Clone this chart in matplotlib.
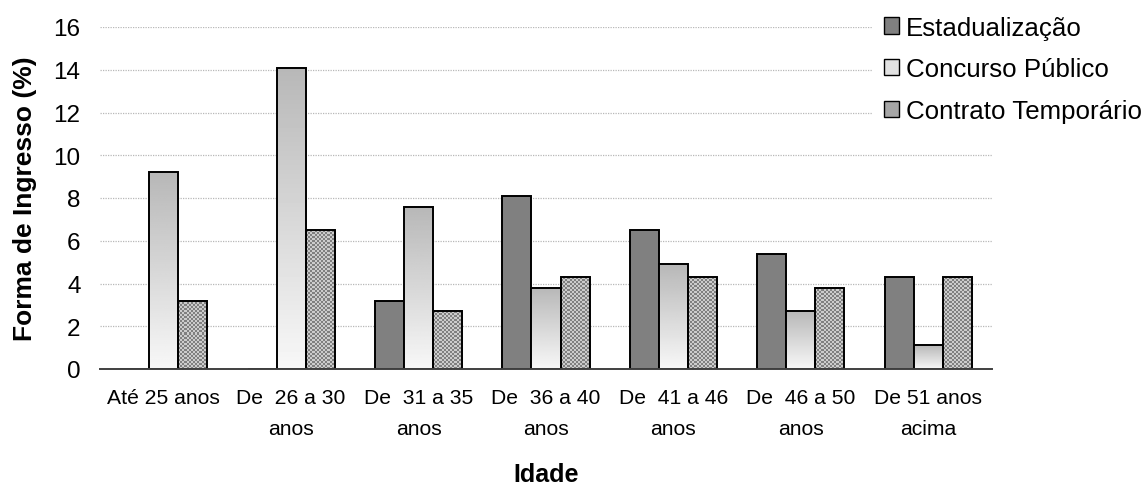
import numpy as np
import matplotlib
matplotlib.use('Agg')
import matplotlib.pyplot as plt
from matplotlib.patches import Patch

categories = ["Até 25 anos", "De  26 a 30\nanos", "De  31 a 35\nanos", "De  36 a 40\nanos",
              "De  41 a 46\nanos", "De  46 a 50\nanos", "De 51 anos\nacima"]
series_names = ["Estadualização", "Concurso Público", "Contrato Temporário"]
estadualizacao = [0, 0, 3.2, 8.1, 6.5, 5.4, 4.3]
concurso = [9.2, 14.1, 7.6, 3.8, 4.9, 2.7, 1.1]
contrato = [3.2, 6.5, 2.7, 4.3, 4.3, 3.8, 4.3]
yticks = [0, 2, 4, 6, 8, 10, 12, 14, 16]

plt.rcParams['font.family'] = ['Liberation Sans', 'DejaVu Sans']

fig = plt.figure(figsize=(11.44, 4.85), dpi=100)
ax = fig.add_axes([100/1144, 1-370/485, 892/1144, 342/485])

x = np.arange(len(categories))
w = 0.228
lw = 1.4

# Estadualização: solid gray
ax.bar(x - w, estadualizacao, w, color='#808080', edgecolor='black', linewidth=lw, zorder=3)

# Concurso Público: vertical gradient
bars_c = ax.bar(x, concurso, w, facecolor='none', edgecolor='black', linewidth=lw, zorder=4)
grad = np.linspace(0.97, 0.72, 100).reshape(-1, 1)
for r in bars_c:
    x0, wd, h = r.get_x(), r.get_width(), r.get_height()
    ax.imshow(grad, extent=(x0, x0 + wd, 0, h), aspect='auto', cmap='gray', vmin=0, vmax=1,
              origin='lower', zorder=3, interpolation='bilinear')

# Contrato Temporário: checker texture
bars_t = ax.bar(x + w, contrato, w, facecolor='none', edgecolor='black', linewidth=lw, zorder=4)
for r in bars_t:
    x0, wd, h = r.get_x(), r.get_width(), r.get_height()
    ncols = 14
    nrows = max(1, int(round(h * 21.375 / 2)))
    ii, jj = np.indices((nrows, ncols))
    chk = np.where((ii + jj) % 2 == 0, 0.50, 0.80)
    ax.imshow(chk, extent=(x0, x0 + wd, 0, h), aspect='auto', cmap='gray', vmin=0, vmax=1,
              origin='lower', zorder=3, interpolation='nearest')

ax.set_xlim(-0.5, len(categories) - 0.5)
ax.set_ylim(0, 16)
ax.set_yticks(yticks)
ax.set_yticklabels([str(v) for v in yticks], fontsize=17.5)
ax.set_xticks(x)
ax.set_xticklabels(categories, fontsize=15.2, linespacing=1.75)
ax.tick_params(axis='y', length=0, pad=14)
ax.tick_params(axis='x', length=0, pad=14)

ax.yaxis.grid(True, color='#b8b8b8', linestyle=(0, (1, 1)), linewidth=0.9, zorder=0)
ax.set_axisbelow(True)
for s in ['left', 'top', 'right']:
    ax.spines[s].set_visible(False)
ax.spines['bottom'].set_color('#404040')
ax.spines['bottom'].set_linewidth(1.4)
ax.spines['bottom'].set_zorder(5)

ax.set_ylabel("Forma de Ingresso (%)", fontsize=19, fontweight='bold')
ax.yaxis.set_label_coords(-0.0706, 0.5)
ax.set_xlabel("Idade", fontsize=18, fontweight='bold')
ax.xaxis.set_label_coords(0.5, (370 - 463) / 342)

handles = [Patch(facecolor='#808080', edgecolor='black', linewidth=1),
           Patch(facecolor='#e2e2e2', edgecolor='black', linewidth=1),
           Patch(facecolor='#a6a6a6', edgecolor='black', linewidth=1)]
leg = fig.legend(handles, series_names, loc='upper left', bbox_to_anchor=(872/1144, 1 - 5/485),
                 fontsize=18.6, frameon=True, facecolor='white', edgecolor='none', fancybox=False,
                 framealpha=1, borderaxespad=0, borderpad=0.45, handlelength=0.58, handleheight=0.58,
                 handletextpad=0.3, labelspacing=0.69)

fig.savefig('out.png', dpi=100)
